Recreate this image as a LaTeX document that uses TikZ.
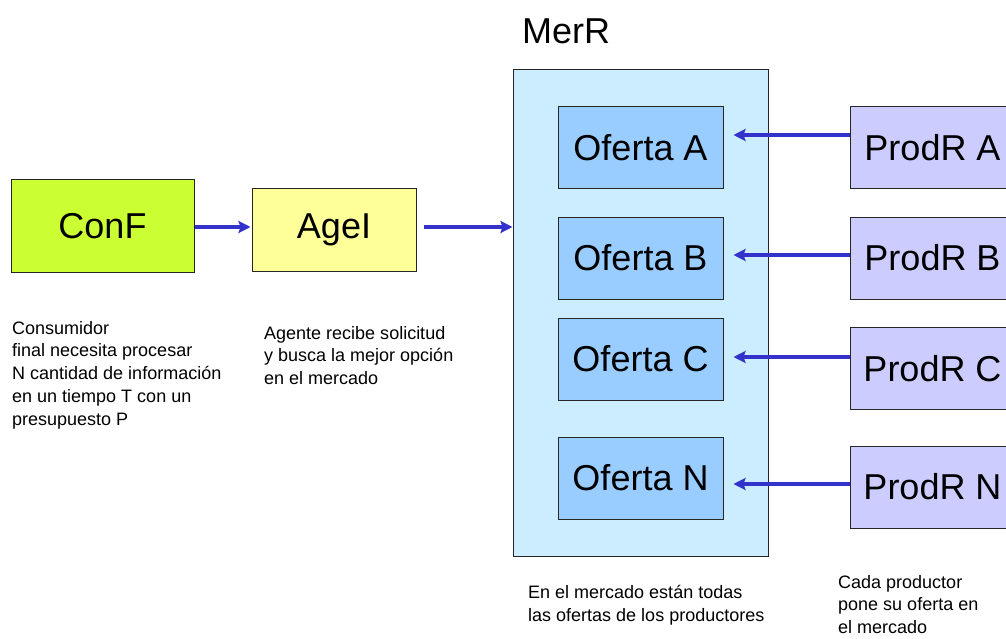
\documentclass[tikz,border=0pt]{standalone}
\usepackage{fontspec}
\setmainfont{Liberation Sans}
\usetikzlibrary{arrows.meta}
\definecolor{conf}{HTML}{CCFF33}
\definecolor{agei}{HTML}{FFFF99}
\definecolor{merr}{HTML}{CCECFF}
\definecolor{ofer}{HTML}{99CCFF}
\definecolor{prod}{HTML}{CCCCFF}
\definecolor{arr}{HTML}{3333CC}
\tikzset{
  box/.style={draw=black!85, line width=1pt, rectangle, inner sep=0pt, font=\fontsize{36}{40}\selectfont},
  note/.style={anchor=north west, inner sep=0pt, align=left, font=\fontsize{18}{22.7}\selectfont},
  flow/.style={draw=arr, line width=3.6pt, -{Stealth[length=12pt,width=12pt,inset=2pt]}},
}
\begin{document}
\begin{tikzpicture}[x=1pt,y=-1pt]
\useasboundingbox (0,0) rectangle (1006,639);
% consumer and agent
\node[box, fill=conf, minimum width=183pt, minimum height=92pt] (ConF) at (102.5,226) {ConF};
\node[box, fill=agei, minimum width=164pt, minimum height=82pt] (AgeI) at (334,230) {\raisebox{-3pt}{AgeI}};
% market
\node[box, fill=merr, minimum width=255pt, minimum height=486pt] (MerR) at (640.5,313) {};
\node[anchor=base west, inner sep=0pt, font=\fontsize{36}{40}\selectfont] (MerRlabel) at (522,44) {MerR};
\node[box, fill=ofer, minimum width=165pt, minimum height=82pt] (OfA) at (640.5,148) {\raisebox{-2pt}{Oferta A}};
\node[box, fill=ofer, minimum width=165pt, minimum height=82pt] (OfB) at (640.5,258) {\raisebox{-2pt}{Oferta B}};
\node[box, fill=ofer, minimum width=165pt, minimum height=82pt] (OfC) at (640.5,359) {\raisebox{-2pt}{Oferta C}};
\node[box, fill=ofer, minimum width=165pt, minimum height=82pt] (OfN) at (640.5,478) {\raisebox{-2pt}{Oferta N}};
% producers
\node[box, fill=prod, minimum width=165pt, minimum height=82pt] (PrA) at (932.5,148) {\raisebox{-2pt}{ProdR A}};
\node[box, fill=prod, minimum width=165pt, minimum height=82pt] (PrB) at (932.5,258) {\raisebox{-2pt}{ProdR B}};
\node[box, fill=prod, minimum width=165pt, minimum height=82pt] (PrC) at (932.5,368.5) {\raisebox{-2pt}{ProdR C}};
\node[box, fill=prod, minimum width=165pt, minimum height=82pt] (PrN) at (932.5,487) {\raisebox{-2pt}{ProdR N}};
% arrows
\draw[flow, shorten >=1pt] ([yshift=-1pt]ConF.east) -- ([yshift=-1pt]ConF.east -| AgeI.west);
\draw[flow, shorten <=7pt] ([yshift=-1pt]AgeI.east |- ConF.east) -- ([yshift=-1pt]ConF.east -| MerR.west);
\draw[flow, shorten >=10pt] ([yshift=13pt]PrA.west) -- ([yshift=13pt]PrA.west -| OfA.east);
\draw[flow, shorten >=10pt] ([yshift=3pt]PrB.west) -- ([yshift=3pt]PrB.west -| OfB.east);
\draw[flow, shorten >=10pt] ([yshift=11.5pt]PrC.west) -- ([yshift=11.5pt]PrC.west -| OfC.east);
\draw[flow, shorten >=10pt] ([yshift=3pt]PrN.west) -- ([yshift=3pt]PrN.west -| OfN.east);
% notes
\node[note] (n1) at (12,321) {Consumidor\\final necesita procesar\\N cantidad de información\\en un tiempo T con un\\presupuesto P};
\node[note] (n2) at (264,326) {Agente recibe solicitud\\y busca la mejor opción\\en el mercado};
\node[note] (n3) at (528,585) {En el mercado están todas\\las ofertas de los productores};
\node[note] (n4) at (838,575) {Cada productor\\pone su oferta en\\el mercado};
\end{tikzpicture}
\end{document}
